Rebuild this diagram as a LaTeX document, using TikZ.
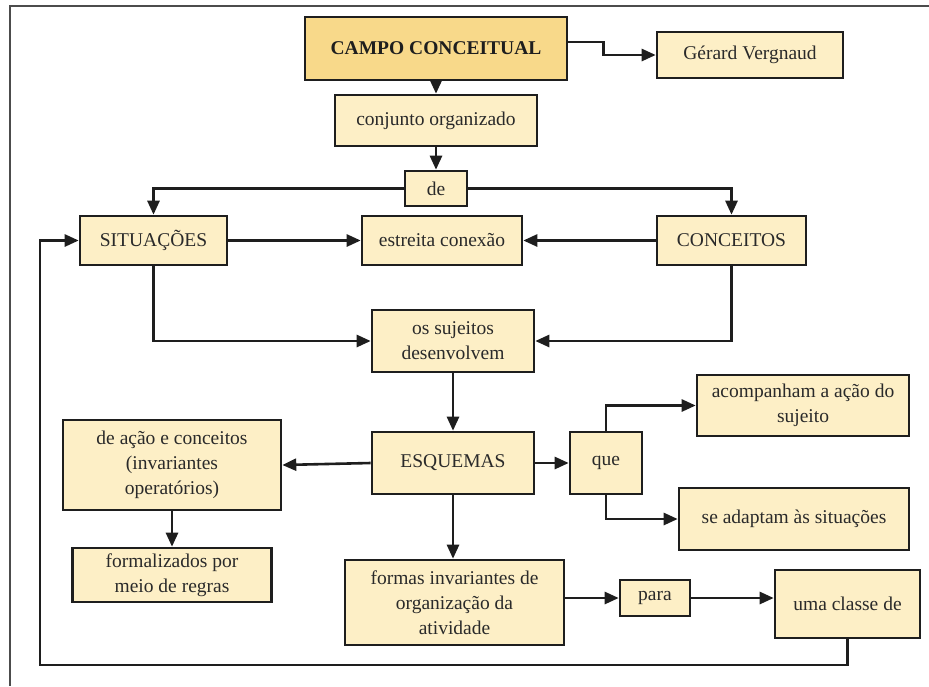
\documentclass[tikz,border=0pt]{standalone}
\usepackage{fontspec}
\setmainfont{Liberation Serif}
\usetikzlibrary{arrows.meta}
\definecolor{cream}{HTML}{FDEFC6}
\definecolor{gold}{HTML}{F8D98A}
\definecolor{ink}{HTML}{1E1E1E}
\definecolor{txt}{HTML}{2A2A2A}
\tikzset{
  box/.style={draw=ink, line width=2.6pt, fill=cream, text=txt, align=center,
    inner sep=0pt, font=\fontsize{19.5}{25}\selectfont},
  mainbox/.style={box, fill=gold, text=ink, font=\fontsize{19.5}{25}\selectfont\bfseries},
  arr/.style={draw=ink, line width=2.6pt, -{Triangle[length=14pt,width=12pt]}},
  framerule/.style={draw=black!70, line width=2pt}
}
\begin{document}
\begin{tikzpicture}[x=1pt,y=-1pt]
\fill[white] (0,0) rectangle (929,686);
\useasboundingbox (0,0) rectangle (929,686);
\draw[framerule] (929,6) -- (10,6) -- (10,686);

\node[mainbox, minimum width=262pt, minimum height=63pt] (campo) at (436,48.5) {CAMPO CONCEITUAL};
\node[box, minimum width=186pt, minimum height=46pt] (gerard) at (750,55) {Gérard Vergnaud};
\node[box, minimum width=202pt, minimum height=51pt] (conj) at (436,120.5) {conjunto organizado};
\node[box, minimum width=62pt, minimum height=35pt] (de) at (436,188.5) {de};
\node[box, minimum width=147pt, minimum height=49pt] (sit) at (153.5,240.5) {SITUAÇÕES};
\node[box, minimum width=160pt, minimum height=49pt] (estr) at (442,240.5) {estreita conexão};
\node[box, minimum width=149pt, minimum height=49pt] (conc) at (731.5,240.5) {CONCEITOS};
\node[box, minimum width=162pt, minimum height=62pt] (suj) at (453,341) {os sujeitos\\desenvolvem};
\node[box, minimum width=212pt, minimum height=61pt] (acomp) at (803,405.5) {acompanham a ação do\\sujeito};
\node[box, minimum width=162pt, minimum height=62pt] (esq) at (453,463) {ESQUEMAS};
\node[box, minimum width=72pt, minimum height=62pt] (que) at (606,463) {que};
\node[box, minimum width=218pt, minimum height=90pt] (deacao) at (172,465) {de ação e conceitos\\(invariantes\\operatórios)};
\node[box, minimum width=230pt, minimum height=62pt] (adapt) at (794,519) {se adaptam às situações};
\node[box, minimum width=199pt, minimum height=54pt] (formal) at (172,575) {formalizados por\\meio de regras};
\node[box, minimum width=219pt, minimum height=85pt] (formas) at (454.5,602.5) {formas invariantes de\\organização da\\atividade};
\node[box, minimum width=70pt, minimum height=36pt] (para) at (655,598) {para};
\node[box, minimum width=145pt, minimum height=68pt] (classe) at (847.5,604) {uma classe de};
\coordinate (lb) at (40,665);

\draw[arr] ([yshift=6.5pt]campo.east) -- ++(35,0) |- (gerard.west);
\draw[arr] (campo.south) -- (conj.north);
\draw[arr] (conj.south) -- (de.north);
\draw[arr] (de.west) -| (sit.north);
\draw[arr] (de.east) -| (conc.north);
\draw[arr] (sit.east) -- (estr.west);
\draw[arr] (conc.west) -- (estr.east);
\draw[arr] (sit.south) |- (suj.west);
\draw[arr] (conc.south) |- (suj.east);
\draw[arr] (suj.south) -- (esq.north);
\draw[arr] (esq.west) -- (deacao.east);
\draw[arr] (esq.east) -- (que.west);
\draw[arr] (que.north) |- (acomp.west);
\draw[arr] (que.south) |- (adapt.west);
\draw[arr] (deacao.south) -- (formal.north);
\draw[arr] (esq.south) -- (esq.south |- formas.north);
\draw[arr] (formas.east |- para.west) -- (para.west);
\draw[arr] (para.east) -- (para.east -| classe.west);
\draw[arr] (classe.south) |- (lb) |- (sit.west);
\end{tikzpicture}
\end{document}
